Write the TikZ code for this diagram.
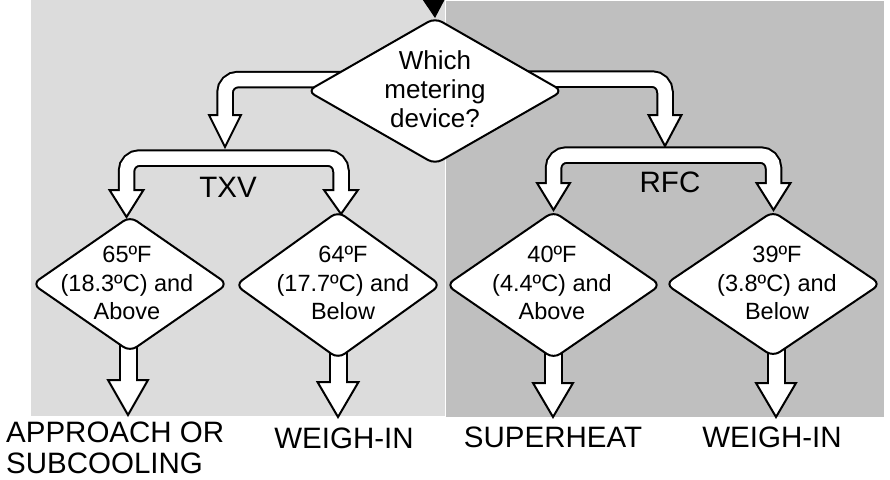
\documentclass[tikz,border=0pt]{standalone}
\usepackage{fontspec}
\setmainfont{Liberation Sans}
\usetikzlibrary{shapes.geometric}
\definecolor{lgray}{RGB}{220,220,220}
\definecolor{dgray}{RGB}{191,191,191}
\newcommand\arrhead[4]{\draw[head] (#1-#3,#2) -- (#1,#2+#4) -- (#1+#3,#2) -- cycle;}
\begin{document}
\begin{tikzpicture}[x=1pt,y=-1pt,
  band/.style={line width=17.5pt, line cap=butt, rounded corners=13pt},
  bandin/.style={band, line width=13.5pt, draw=white},
  shaft/.style={line width=19pt, line cap=butt},
  shaftin/.style={line width=15pt, line cap=butt, draw=white},
  head/.style={fill=white, draw=black, line width=2pt, line join=miter},
  dia/.style={diamond, draw=black, fill=white, line width=2pt, rounded corners=8pt, inner sep=0pt, outer sep=0pt},
  dtext/.style={align=center, inner sep=0pt, font=\fontsize{23.5}{28.5}\selectfont},
  qtext/.style={align=center, inner sep=0pt, font=\fontsize{26}{29}\selectfont},
  lab/.style={inner sep=0pt, font=\fontsize{29.5}{31.5}\selectfont}]
\useasboundingbox (0,0) rectangle (890,479);
% panels
\fill[lgray] (31,0) rectangle (444.5,416);
\fill[dgray] (446,1) rectangle (884,417);
% named points
\coordinate (qW) at (360,79.5);
\coordinate (qE) at (510,79);
% main left
\draw[band] (qW) -| (225,115);
\arrhead{225}{115}{16}{32}
\draw[bandin] (qW) -| (225,117);
% main right
\draw[band] (qE) -| (665,115);
\arrhead{665}{115}{16.5}{31}
\draw[bandin] (qE) -| (665,117);
% TXV band
\draw[band] (126.5,190) |- (234,158) -| (341,190);
\arrhead{126.5}{190}{17}{27}
\arrhead{341}{190}{17}{24}
\draw[bandin] (126.5,192) |- (234,158) -| (341,192);
% RFC band
\draw[band] (553.5,183) |- (663,155) -| (773.5,183);
\arrhead{553.5}{183}{16.5}{27}
\arrhead{773.5}{183}{17}{27}
\draw[bandin] (553.5,185) |- (663,155) -| (773.5,185);
% bottom shafts
\draw[shaft] (128,330) -- (128,380);
\arrhead{128}{380}{20}{35}
\draw[shaftin] (128,330) -- (128,382);
\draw[shaft] (338,340) -- (338,382);
\arrhead{338}{382}{20.5}{35}
\draw[shaftin] (338,340) -- (338,384);
\draw[shaft] (553,340) -- (553,383);
\arrhead{553}{383}{20}{34}
\draw[shaftin] (553,340) -- (553,385);
\draw[shaft] (776,340) -- (776,383);
\arrhead{776}{383}{20}{34}
\draw[shaftin] (776,340) -- (776,385);
% diamonds
\node[dia, minimum width=255pt, minimum height=146pt] (q) at (435,91) {};
\node[dia, minimum width=195pt, minimum height=135pt] (d1) at (130,284) {};
\node[dia, minimum width=205pt, minimum height=147pt] (d2) at (338,285) {};
\node[dia, minimum width=214pt, minimum height=147pt] (d3) at (553.5,285) {};
\node[dia, minimum width=215pt, minimum height=145pt] (d4) at (773,284) {};
% texts
\node[qtext] (qt) at (435,89) {Which\\metering\\device?};
\node[dtext] (d1t) at (127,283) {65ºF\\(18.3ºC) and\\Above};
\node[dtext] (d2t) at (343,283) {64ºF\\(17.7ºC) and\\Below};
\node[dtext] (d3t) at (552,283) {40ºF\\(4.4ºC) and\\Above};
\node[dtext] (d4t) at (777,283) {39ºF\\(3.8ºC) and\\Below};
\node[lab] (txv) at (228,187) {TXV};
\node[lab] (rfc) at (670,182) {RFC};
\node[lab, align=left, anchor=west] (l1) at (6,448) {APPROACH OR\\SUBCOOLING};
\node[lab] (l2) at (344,438) {WEIGH-IN};
\node[lab] (l3) at (553,437) {SUPERHEAT};
\node[lab] (l4) at (772,437) {WEIGH-IN};
% incoming arrow tip
\fill (421.5,-2) -- (445.5,-2) -- (q.north) -- cycle;
\end{tikzpicture}
\end{document}
